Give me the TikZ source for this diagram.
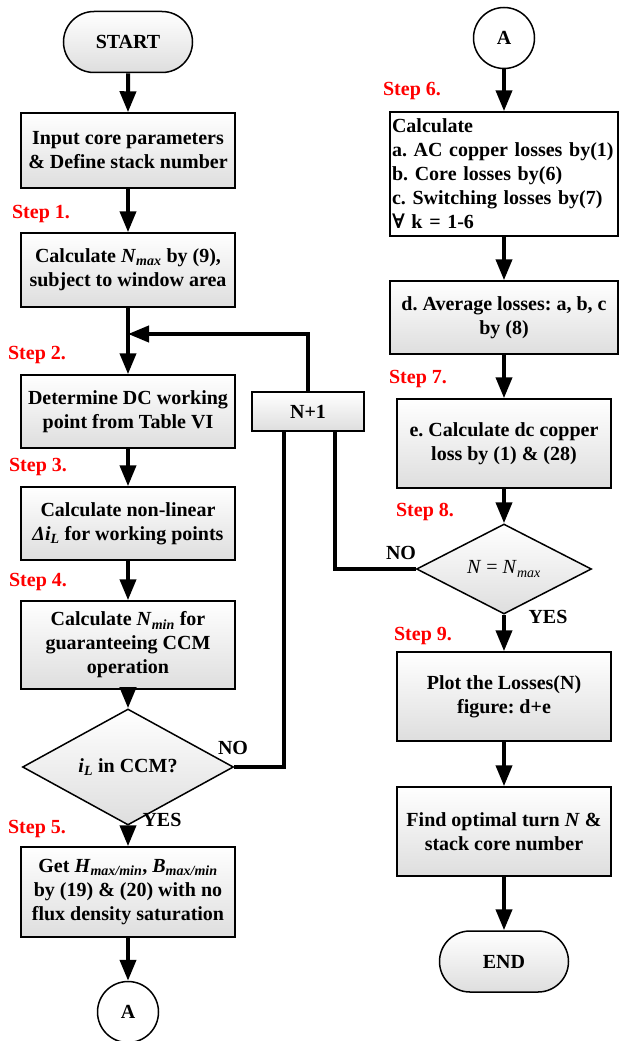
\documentclass[tikz,border=0pt]{standalone}
\usepackage{fontspec}
\setmainfont{Liberation Serif}
\newfontfamily\forallfont{DejaVu Serif}
\usetikzlibrary{arrows.meta,shapes.geometric,shapes.misc}
\newcommand{\isub}[1]{\textsubscript{\itshape #1}}
\tikzset{
	box/.style={draw, line width=1.5pt, top color=white, bottom color=black!13, align=center, inner sep=2pt},
	proc/.style={box, minimum width=214pt},
	term/.style={box, rounded rectangle, minimum width=133pt, minimum height=61pt},
	dec/.style={box, diamond, inner sep=0pt},
	conn/.style={draw, line width=1.5pt, circle, minimum size=61pt, inner sep=0pt},
	flow/.style={line width=4pt, -{Triangle[length=21pt,width=16pt]}},
	wire/.style={line width=4pt},
	steplbl/.style={text=red},
}

\begin{document}
\begin{tikzpicture}[x=1pt, y=-1pt, font=\fontsize{20}{24}\selectfont\bfseries\frenchspacing]
		%%%%% START %%%%%
		\useasboundingbox (0,0) rectangle (619,1041);
		
		% left column
		\node[term] (start) at (128, 42) {START};
		\node[proc, minimum height=75pt] (input) at (128, 150.5) {Input core parameters\\ \& Define stack number};
		\node[proc, minimum height=74pt] (nmax) at (128, 270) {Calculate \textit{N}\isub{max} by (9),\\ subject to window area};
		\coordinate (join) at (128, 334);
		\node[proc, minimum height=73pt] (dcpt) at (128, 411.5) {Determine DC working\\ point from Table VI};
		\node[proc, minimum height=73pt] (ripple) at (128, 523.5) {Calculate non-linear\\ \textit{Δi}\isub{L} for working points};
		\node[proc, minimum height=88pt] (nmin) at (128, 645) {Calculate \textit{N}\isub{min} for\\ guaranteeing CCM\\ operation};
		\node[dec, minimum width=211pt, minimum height=72pt] (ccm) at (128, 767) {\textit{i}\isub{L} in CCM?};
		\node[proc, minimum height=90pt] (hb) at (128, 892) {Get \textit{H}\isub{max/min}, \textit{B}\isub{max/min}\\ by (19) \& (20) with no\\ flux density saturation};
		\node[conn] (conA) at (128, 1012) {A};
		
		% loop box
		\node[box, minimum width=112pt, minimum height=39pt] (nplus) at (308, 411.5) {N+1};
		
		% right column
		\node[conn] (conB) at (504, 38) {A};
		\node[draw, line width=1.5pt, fill=white, align=left, text width=224pt, inner xsep=2pt, inner ysep=2pt, minimum height=124pt] (losses) at (504, 174) {Calculate\\ a. AC copper losses by(1)\\ b. Core losses by(6)\\ c. Switching losses by(7)\\ {\forallfont ∀} k = 1-6};
		\node[box, minimum width=228pt, minimum height=73pt] (avg) at (504, 317.5) {d. Average losses: a, b, c\\ by (8)};
		\node[proc, minimum height=89pt] (dcloss) at (504, 443.5) {e. Calculate dc copper\\ loss by (1) \& (28)};
		\node[dec, minimum width=175pt, minimum height=72pt] (nchk) at (504, 569) {\mdseries\textit{N} = \textit{N}\isub{max}};
		\node[proc, minimum height=89pt] (plot) at (504, 696.5) {Plot the Losses(N)\\ figure: d+e};
		\node[proc, minimum height=89pt] (optim) at (504, 831.5) {Find optimal turn \textit{N} \&\\ stack core number};
		\node[term] (end) at (504, 961.5) {END};
		
		% step labels
		\node[steplbl] (s1) at (41, 214) {Step 1.};
		\node[steplbl] (s2) at (37, 355) {Step 2.};
		\node[steplbl] (s3) at (38, 467) {Step 3.};
		\node[steplbl] (s4) at (38, 582) {Step 4.};
		\node[steplbl] (s5) at (37, 829) {Step 5.};
		\node[steplbl] (s6) at (412, 91) {Step 6.};
		\node[steplbl] (s7) at (418, 379) {Step 7.};
		\node[steplbl] (s8) at (425, 512) {Step 8.};
		\node[steplbl] (s9) at (423, 636) {Step 9.};
		
		\node (noL) at (233, 748) {NO};
		\node (yesL) at (162, 820) {YES};
		\node (noR) at (401, 553) {NO};
		\node (yesR) at (548, 617) {YES};
		
		% connectors
		\draw[flow] (start) -- (input);
		\draw[flow] (input) -- (nmax);
		\draw[flow] (nmax) -- (dcpt);
		\draw[flow] (nplus.north) |- (join);
		\draw[flow] (dcpt) -- (ripple);
		\draw[flow] (ripple) -- (nmin);
		\draw[flow] (nmin) -- (ccm);
		\draw[flow] (ccm) -- (hb);
		\draw[flow] (hb) -- (conA);
		\draw[wire] (ccm.east) -| ([xshift=-24pt]nplus.south);
		
		\draw[flow] (conB) -- (losses);
		\draw[flow] (losses) -- (avg);
		\draw[flow] (avg) -- (dcloss);
		\draw[flow] (dcloss) -- (nchk);
		\draw[wire] (nchk.west) -| ([xshift=27pt]nplus.south);
		\draw[flow] (nchk) -- (plot);
		\draw[flow] (plot) -- (optim);
		\draw[flow] (optim) -- (end);
		
		%%%%% END %%%%%
	\end{tikzpicture}
\end{document}
